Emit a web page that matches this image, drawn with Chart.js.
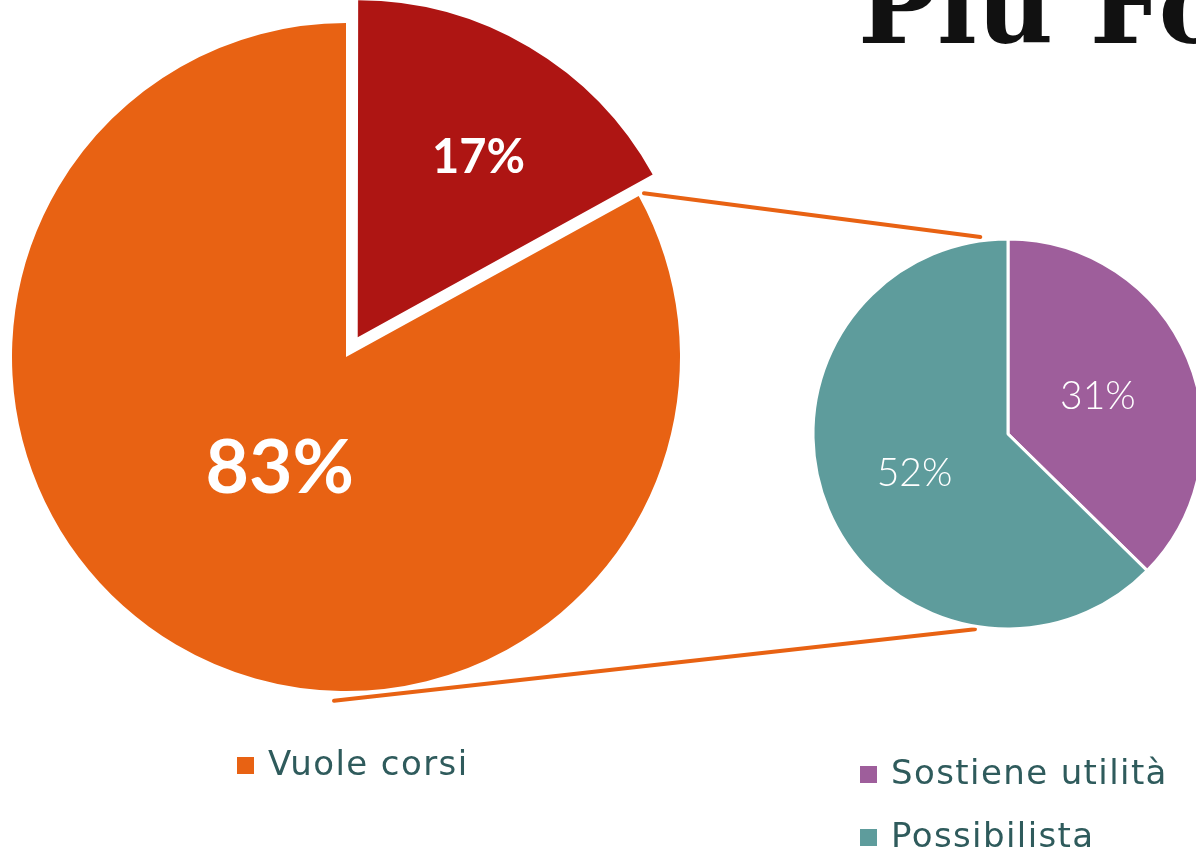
<!DOCTYPE html>
<html>
<head>
<meta charset="utf-8">
<script src="https://cdn.jsdelivr.net/npm/chart.js@4.4.1/dist/chart.umd.min.js"></script>
<style>
  html, body { margin: 0; padding: 0; background: #fff; overflow: hidden; }
  #wrap { position: relative; width: 1196px; height: 857px; overflow: hidden; }
  canvas { position: absolute; left: 0; top: 0; }
  #title {
    position: absolute; left: 858px; top: -46px; white-space: nowrap;
    font: bold 105px "DejaVu Serif", serif; line-height: 1; color: #111;
  }
</style>
</head>
<body>
<div id="wrap">
  <div id="title">Più Forti</div>
  <canvas id="bigPie" width="1196" height="857"></canvas>
  <canvas id="smallPie" width="1196" height="857"></canvas>
</div>
<script>
// big pie: the red slice has no legend entry
const bigLabels = ['', 'Vuole corsi'];
const bigValues = [17, 83];
const bigColors = ['#AE1513', '#E86213'];

// small pie: breakdown of "Vuole corsi"
const smallLabels = ['Sostiene utilità', 'Possibilista'];
const smallValues = [31, 52];
const smallColors = ['#9E5E9B', '#5E9C9C'];

const legendColor = '#2F5B5C';
const labelFont = 'Lato, "Open Sans", sans-serif';
const legendFont = '34px "DejaVu Sans", sans-serif';

// percentage text inside each slice
function sliceLabels(opts) {
  return {
    id: 'sliceLabels',
    afterDatasetsDraw(chart) {
      const ctx = chart.ctx;
      const meta = chart.getDatasetMeta(0);
      const values = chart.data.datasets[0].data;
      meta.data.forEach((arc, i) => {
        const mid = (arc.startAngle + arc.endAngle) / 2;
        const shift = (arc.options.offset || 0) / 4;
        const a = mid + (opts.turn[i] || 0) * Math.PI / 180;
        const r = arc.outerRadius * opts.frac[i];
        const x = arc.x + Math.cos(mid) * shift + Math.cos(a) * r;
        const y = arc.y + Math.sin(mid) * shift + Math.sin(a) * r;
        ctx.save();
        ctx.fillStyle = '#fff';
        ctx.font = opts.fonts[i];
        ctx.textAlign = 'center';
        ctx.textBaseline = 'middle';
        ctx.fillText(values[i] + '%', x, y);
        ctx.restore();
      });
    }
  };
}

// square-marker legend drawn from the labels
function squareLegend(opts) {
  return {
    id: 'squareLegend',
    afterDraw(chart) {
      const ctx = chart.ctx;
      const ds = chart.data.datasets[0];
      let row = 0;
      chart.data.labels.forEach((label, i) => {
        if (!label) return;
        const y = opts.y + row * opts.rowGap;
        ctx.save();
        ctx.fillStyle = ds.backgroundColor[i];
        ctx.fillRect(opts.x, y - 8, 17, 17);
        ctx.fillStyle = legendColor;
        ctx.font = legendFont;
        ctx.letterSpacing = '1.4px';
        ctx.textBaseline = 'middle';
        ctx.fillText(label, opts.x + 31, y + 1);
        ctx.restore();
        row++;
      });
    }
  };
}

const bigChart = new Chart(document.getElementById('bigPie'), {
  type: 'pie',
  data: {
    labels: bigLabels,
    datasets: [{
      data: bigValues,
      backgroundColor: bigColors,
      borderWidth: 0,
      offset: [92, 0],
      radius: 334
    }]
  },
  options: {
    responsive: false,
    animation: false,
    devicePixelRatio: 1,
    layout: { padding: { left: 0, top: 0, right: 504, bottom: 143 } },
    plugins: { legend: { display: false }, tooltip: { enabled: false } }
  },
  plugins: [
    sliceLabels({
      frac: [0.647, 0.39], turn: [3.4, 0],
      fonts: ['bold 47px ' + labelFont, 'bold 75px ' + labelFont]
    }),
    squareLegend({ x: 237, y: 765, rowGap: 60 })
  ]
});

// orange connectors from the big pie to the small one
const connectors = {
  id: 'connectors',
  beforeDatasetsDraw(chart) {
    const big = bigChart.getDatasetMeta(0).data;
    const small = chart.getDatasetMeta(0).data[0];
    if (!big.length || !small) return;
    const orange = big[1];
    const R = orange.outerRadius, r = small.outerRadius;
    const ctx = chart.ctx;
    const deg = Math.PI / 180;
    const ends = [
      [orange.startAngle, R + 6, -Math.PI / 2 - 8 * deg, r + 4],
      [Math.PI / 2 + 2 * deg, R + 10, Math.PI / 2 + 9.6 * deg, r + 3]
    ];
    ctx.save();
    ctx.strokeStyle = '#E86213';
    ctx.lineWidth = 4;
    ctx.lineCap = 'round';
    ends.forEach(([a1, r1, a2, r2]) => {
      ctx.beginPath();
      ctx.moveTo(orange.x + Math.cos(a1) * r1, orange.y + Math.sin(a1) * r1);
      ctx.lineTo(small.x + Math.cos(a2) * r2, small.y + Math.sin(a2) * r2);
      ctx.stroke();
    });
    ctx.restore();
  }
};

new Chart(document.getElementById('smallPie'), {
  type: 'pie',
  data: {
    labels: smallLabels,
    datasets: [{
      data: smallValues,
      backgroundColor: smallColors,
      borderColor: '#fff',
      borderWidth: 3,
      radius: 195
    }]
  },
  options: {
    responsive: false,
    animation: false,
    devicePixelRatio: 1,
    layout: { padding: { left: 820, top: 11, right: 0, bottom: 0 } },
    plugins: { legend: { display: false }, tooltip: { enabled: false } }
  },
  plugins: [
    connectors,
    sliceLabels({
      frac: [0.5, 0.52], turn: [0, 0],
      fonts: ['300 39px ' + labelFont, '300 39px ' + labelFont]
    }),
    squareLegend({ x: 860, y: 774, rowGap: 63 })
  ]
});
</script>
</body>
</html>
